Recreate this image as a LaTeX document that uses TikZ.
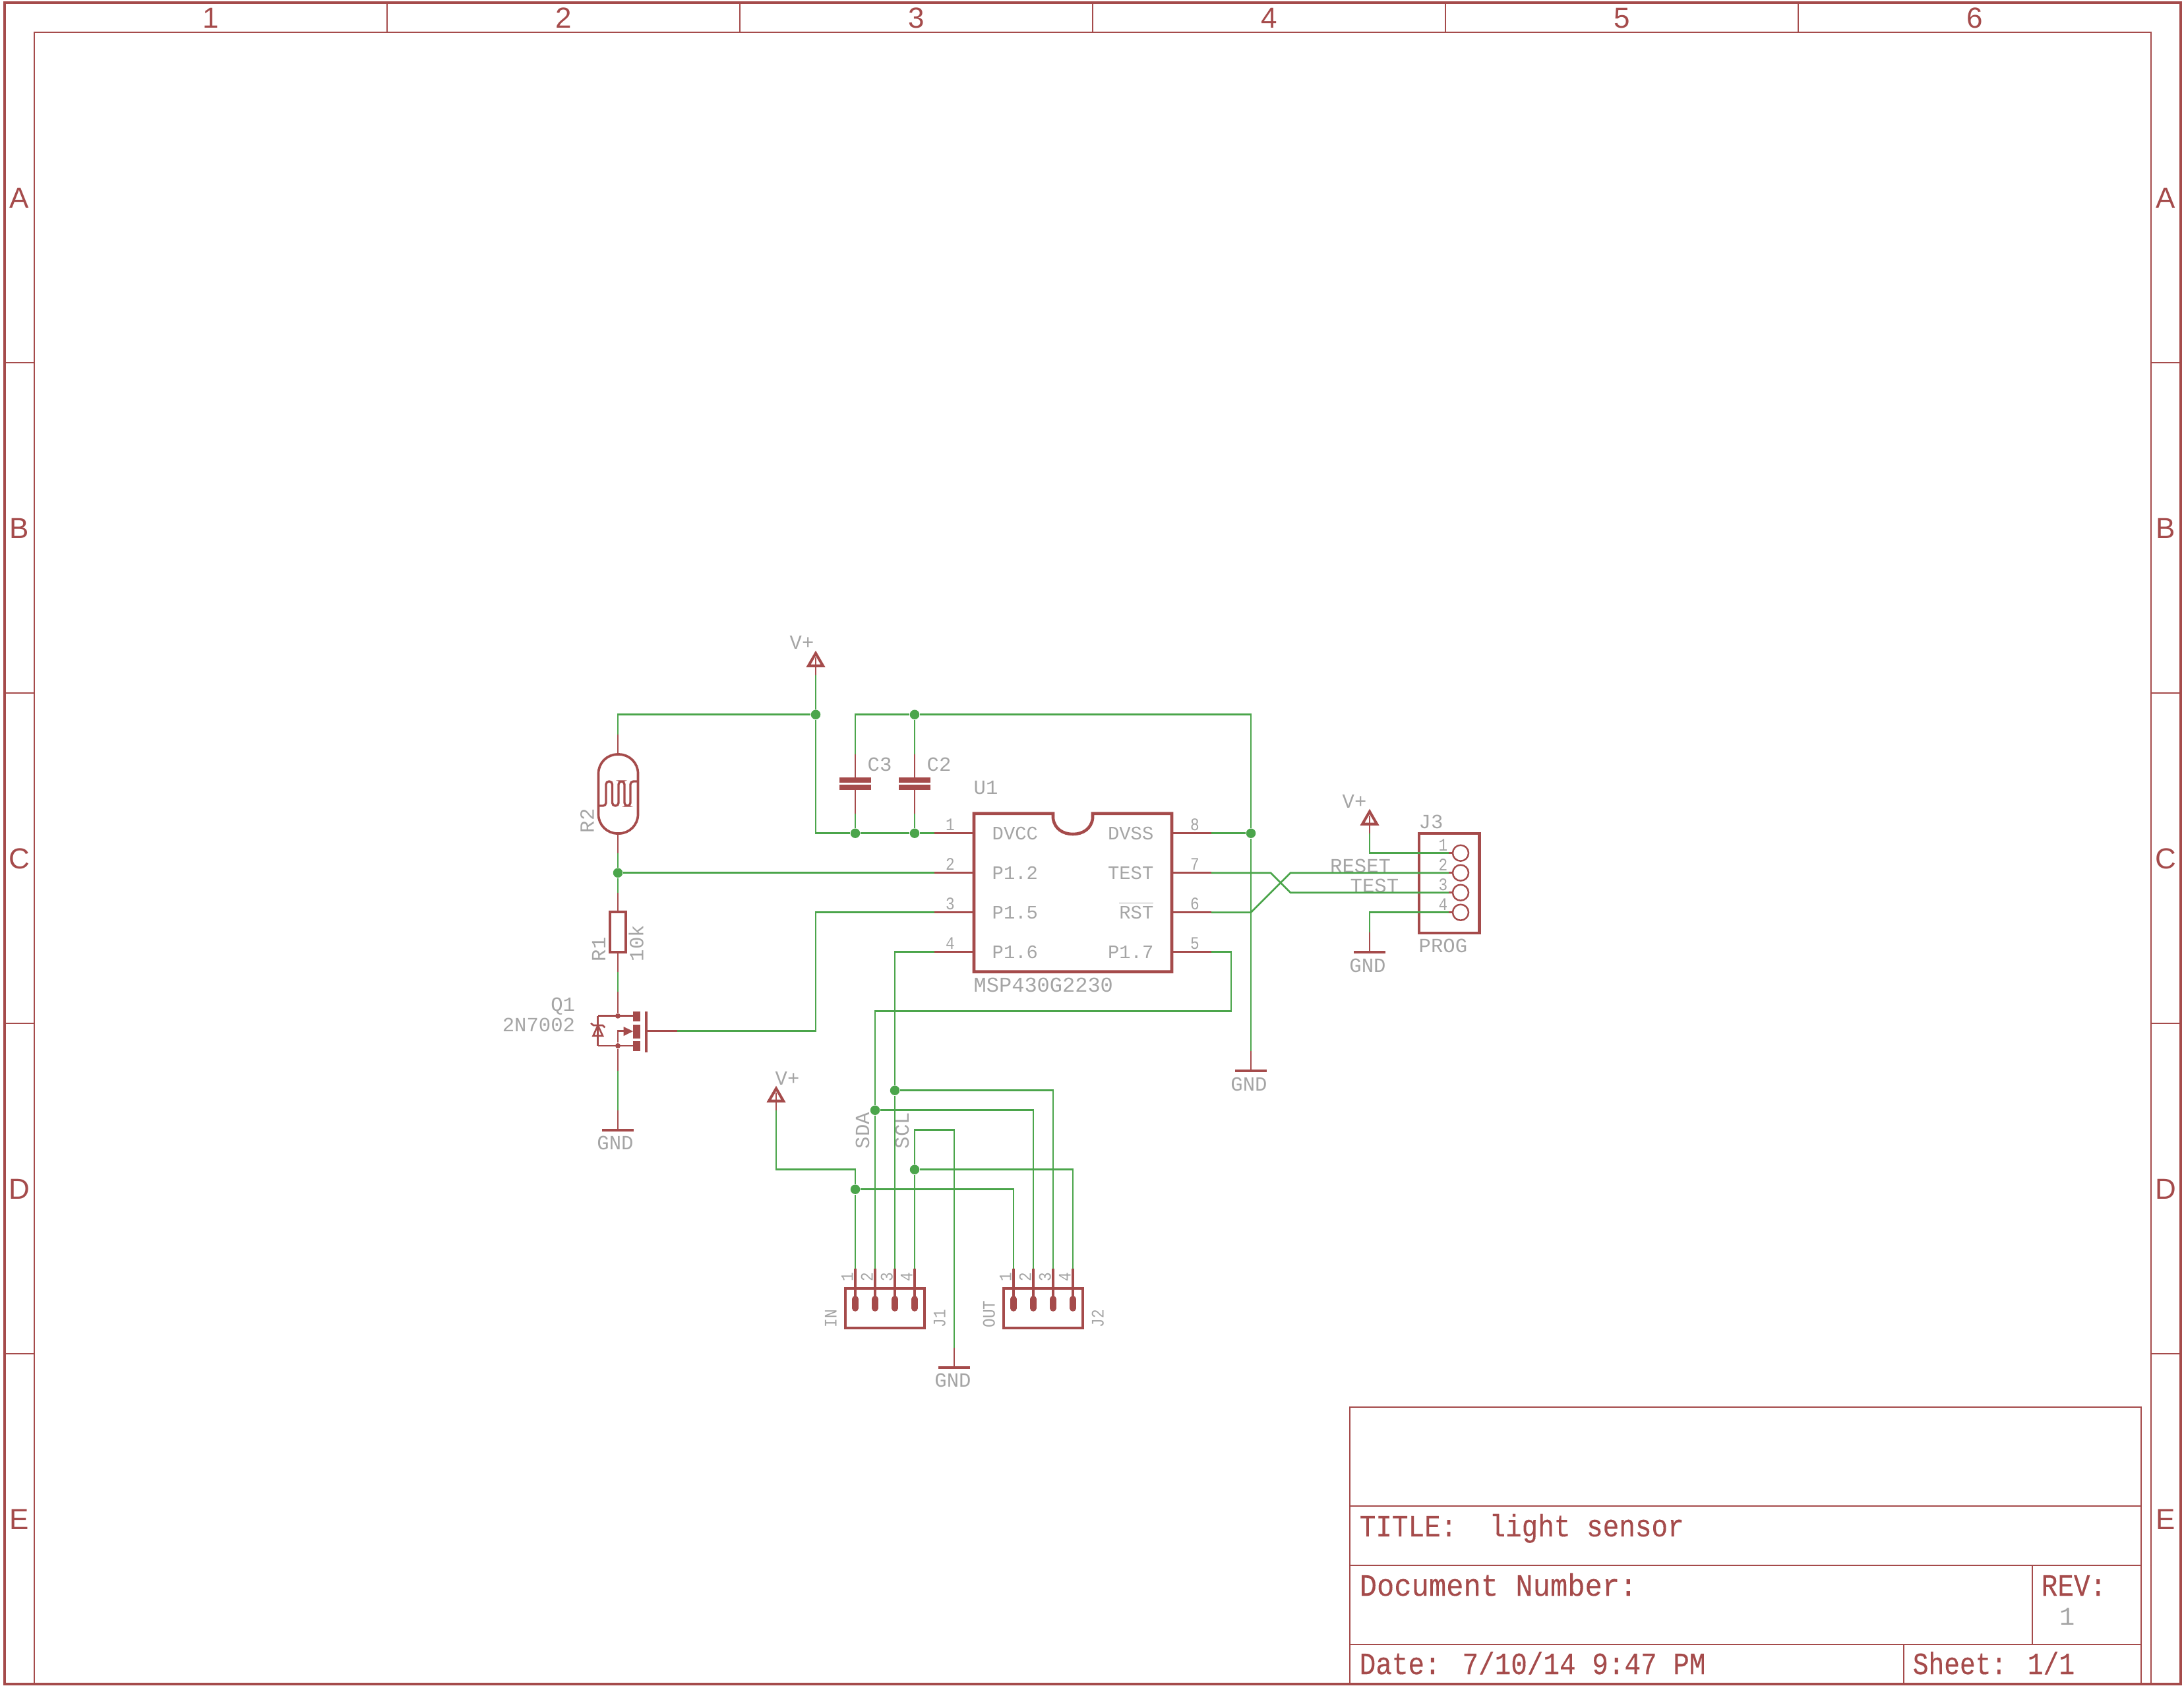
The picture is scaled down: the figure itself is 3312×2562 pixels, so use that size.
\documentclass[tikz,border=0pt]{standalone}
\usepackage{fontspec}
\usepackage{xcolor}
\newfontfamily\vecfont{Liberation Mono}
\newfontfamily\vecsmall[FakeStretch=0.85]{Liberation Mono}
\newfontfamily\vectitle[FakeStretch=0.87,FakeBold=0.25]{Liberation Mono}
\newfontfamily\vecdoc[FakeStretch=0.93,FakeBold=0.25]{Liberation Mono}
\newfontfamily\vecsheet[FakeStretch=0.84,FakeBold=0.25]{Liberation Mono}
\newfontfamily\framefont{Liberation Sans}
\definecolor{symred}{RGB}{165,75,75}
\definecolor{netgreen}{RGB}{75,165,75}
\definecolor{lblgray}{RGB}{165,165,165}
\tikzset{
  wire/.style={color=netgreen,line width=0.75pt},
  pinline/.style={color=symred,line width=0.75pt},
  symline/.style={color=symred,line width=1.15pt},
  framethin/.style={color=symred,line width=0.7pt},
  junc/.style={circle,fill=netgreen,inner sep=0pt,minimum size=0.145cm},
  dotred/.style={circle,fill=symred,inner sep=0pt,minimum size=0.08cm},
  lbl/.style={inner sep=0pt,text=lblgray,font=\vecfont\fontsize{8.7pt}{10pt}\selectfont,text height=5.7pt,text depth=0pt},
  pinlbl/.style={lbl,font=\vecfont\fontsize{8.2pt}{10pt}\selectfont},
  pinno/.style={inner sep=0pt,text=lblgray,font=\vecsmall\fontsize{7.6pt}{8pt}\selectfont,text height=4.9pt,text depth=0pt},
  framelbl/.style={inner sep=0pt,text=symred,font=\framefont\fontsize{12.5pt}{14pt}\selectfont,text height=8.9pt,text depth=0pt},
  titlelbl/.style={inner sep=0pt,anchor=base west,text=symred,font=\vectitle\fontsize{13.4pt}{15pt}\selectfont},
  boxsym/.style={draw=symred,line width=1.1pt,inner sep=0pt}
}

\begin{document}
\begin{tikzpicture}[x=0.01cm,y=-0.01cm]
\useasboundingbox (0,0) rectangle (3312,2562);

% frame
\draw[color=symred,line width=1.1pt] (7,4) rectangle (3307,2554);
\draw[framethin] (52,2554) -- (52,49) -- (3262,49) -- (3262,2554);
\draw[framethin] (587,4) -- (587,49);
\draw[framethin] (1122,4) -- (1122,49);
\draw[framethin] (1657,4) -- (1657,49);
\draw[framethin] (2192,4) -- (2192,49);
\draw[framethin] (2727,4) -- (2727,49);
\draw[framethin] (7,550) -- (52,550);
\draw[framethin] (7,1051) -- (52,1051);
\draw[framethin] (7,1552) -- (52,1552);
\draw[framethin] (7,2053) -- (52,2053);
\draw[framethin] (3262,550) -- (3307,550);
\draw[framethin] (3262,1051) -- (3307,1051);
\draw[framethin] (3262,1552) -- (3307,1552);
\draw[framethin] (3262,2053) -- (3307,2053);
\node[framelbl] (col1) at (319.5,26.5) {1};
\node[framelbl] (col2) at (854.5,26.5) {2};
\node[framelbl] (col3) at (1389.5,26.5) {3};
\node[framelbl] (col4) at (1924.5,26.5) {4};
\node[framelbl] (col5) at (2459.5,26.5) {5};
\node[framelbl] (col6) at (2994.5,26.5) {6};
\node[framelbl] (rowAl) at (29.5,299.5) {A};
\node[framelbl] (rowBl) at (29.5,800.5) {B};
\node[framelbl] (rowCl) at (29.5,1301.5) {C};
\node[framelbl] (rowDl) at (29.5,1802.5) {D};
\node[framelbl] (rowEl) at (29.5,2303.5) {E};
\node[framelbl] (rowAr) at (3284.5,299.5) {A};
\node[framelbl] (rowBr) at (3284.5,800.5) {B};
\node[framelbl] (rowCr) at (3284.5,1301.5) {C};
\node[framelbl] (rowDr) at (3284.5,1802.5) {D};
\node[framelbl] (rowEr) at (3284.5,2303.5) {E};

% title block
\draw[framethin] (2047,2554) -- (2047,2134) -- (3247,2134) -- (3247,2554);
\draw[framethin] (2047,2284) -- (3247,2284);
\draw[framethin] (2047,2374) -- (3247,2374);
\draw[framethin] (2047,2494) -- (3247,2494);
\draw[framethin] (3082,2374) -- (3082,2494);
\draw[framethin] (2887,2494) -- (2887,2554);
\node[titlelbl] (title) at (2061,2330) {TITLE:\ \ light sensor};
\node[titlelbl,font=\vecdoc\fontsize{13.4pt}{15pt}\selectfont] (docnum) at (2061,2420) {Document Number:};
\node[titlelbl] (rev) at (3095,2420) {REV:};
\node[lbl,font=\vecfont\fontsize{11pt}{12pt}\selectfont,text height=7.4pt] (revno) at (3135,2451) {1};
\node[titlelbl] (date) at (2061,2539) {Date: 7/10/14 9:47 PM};
\node[titlelbl,font=\vecsheet\fontsize{13.4pt}{15pt}\selectfont] (sheet) at (2900,2539) {Sheet: 1/1};

% U1
\draw[color=symred,line width=1.3pt] (1597,1233.7) -- (1477,1233.7) -- (1477,1473.7) -- (1777,1473.7) -- (1777,1233.7) -- (1657,1233.7) -- (1657,1241) .. controls (1655,1257) and (1642,1265) .. (1627,1265) .. controls (1612,1265) and (1599,1257) .. (1597,1241) -- cycle;
\coordinate (u1p1) at (1417,1263.7);
\coordinate (u1p2) at (1417,1323.7);
\coordinate (u1p3) at (1417,1383.7);
\coordinate (u1p4) at (1417,1443.7);
\coordinate (u1p5) at (1837,1443.7);
\coordinate (u1p6) at (1837,1383.7);
\coordinate (u1p7) at (1837,1323.7);
\coordinate (u1p8) at (1837,1263.7);
\draw[pinline] (u1p1) -- (1477,1263.7);
\draw[pinline] (u1p2) -- (1477,1323.7);
\draw[pinline] (u1p3) -- (1477,1383.7);
\draw[pinline] (u1p4) -- (1477,1443.7);
\draw[pinline] (u1p5) -- (1777,1443.7);
\draw[pinline] (u1p6) -- (1777,1383.7);
\draw[pinline] (u1p7) -- (1777,1323.7);
\draw[pinline] (u1p8) -- (1777,1263.7);
\node[pinno] (u1n1) at (1441,1251) {1};
\node[pinno] (u1n2) at (1441,1311) {2};
\node[pinno] (u1n3) at (1441,1371) {3};
\node[pinno] (u1n4) at (1441,1431) {4};
\node[pinno] (u1n5) at (1812,1431) {5};
\node[pinno] (u1n6) at (1812,1371) {6};
\node[pinno] (u1n7) at (1812,1311) {7};
\node[pinno] (u1n8) at (1812,1251) {8};
\node[pinlbl,anchor=west] (u1a) at (1504,1263.7) {DVCC};
\node[pinlbl,anchor=west] (u1b) at (1504,1323.7) {P1.2};
\node[pinlbl,anchor=west] (u1c) at (1504,1383.7) {P1.5};
\node[pinlbl,anchor=west] (u1d) at (1504,1443.7) {P1.6};
\node[pinlbl,anchor=east] (u1e) at (1750,1263.7) {DVSS};
\node[pinlbl,anchor=east] (u1f) at (1750,1323.7) {TEST};
\node[pinlbl,anchor=east] (u1g) at (1750,1383.7) {$\overline{\hbox{RST}}$};
\node[pinlbl,anchor=east] (u1h) at (1750,1443.7) {P1.7};
\node[lbl,anchor=west] (u1name) at (1476,1194) {U1};
\node[lbl,anchor=west,font=\vecfont\fontsize{9.1pt}{10pt}\selectfont] (u1val) at (1476,1494) {MSP430G2230};

% R2
\draw[color=symred,line width=1.05pt,rounded corners=0.29cm] (907.5,1144) rectangle (967.5,1264);
\draw[color=symred,line width=0.95pt,rounded corners=0.045cm] (908,1222) -- (919,1222) -- (919,1185) -- (928.5,1185) -- (928.5,1222) -- (938,1222) -- (938,1185) -- (947,1185) -- (947,1222) -- (956,1222) -- (956,1185) -- (967,1185);
\coordinate (r2top) at (937,1113.7);
\coordinate (r2bot) at (937,1293.7);
\draw[pinline] (r2top) -- (937,1144);
\draw[pinline] (r2bot) -- (937,1264);
\node[lbl,rotate=90,anchor=west] (r2name) at (890.5,1264) {R2};

% R1
\node[boxsym,line width=1.2pt,minimum width=0.233cm,minimum height=0.607cm] (r1) at (937,1413.7) {};
\coordinate (r1top) at (937,1353.7);
\coordinate (r1bot) at (937,1473.7);
\draw[pinline] (r1top) -- (r1.north);
\draw[pinline] (r1bot) -- (r1.south);
\node[lbl,rotate=90,anchor=west] (r1name) at (908,1459) {R1};
\node[lbl,rotate=90,anchor=west] (r1val) at (965.7,1459) {10k};

% Q1
\coordinate (q1d) at (937,1503.7);
\coordinate (q1s) at (937,1623.7);
\coordinate (q1g) at (1027,1563.7);
\node[dotred] (q1dd) at (937,1540.7) {};
\node[dotred] (q1ss) at (937,1586) {};
\draw[pinline] (q1d) -- (q1dd);
\draw[pinline] (q1s) -- (q1ss);
\draw[pinline] (906.7,1540.7) -- (960,1540.7);
\draw[pinline] (906.7,1586) -- (960,1586);
\draw[pinline] (906.7,1540.7) -- (906.7,1586);
\draw[pinline] (q1ss) -- (937,1563.7) -- (946,1563.7);
\draw[pinline] (q1g) -- (981,1563.7);
\draw[symline] (980,1534) -- (980,1595.7);
\fill[symred] (960,1534) rectangle (971,1549);
\fill[symred] (960,1554) rectangle (971,1575);
\fill[symred] (960,1579) rectangle (971,1594);
\fill[symred] (945.7,1557) -- (945.7,1571) -- (960,1564) -- cycle;
\draw[pinline] (899.5,1571) -- (914,1571) -- (906.7,1555) -- cycle;
\draw[pinline] (896,1551.7) -- (900,1555) -- (914,1555) -- (917.3,1558.3);
\node[lbl,anchor=east] (q1name) at (872.7,1523) {Q1};
\node[lbl,anchor=east] (q1val) at (872.7,1554) {2N7002};

% C3 and C2
\fill[symred] (1273,1179) rectangle (1321,1187);
\fill[symred] (1273,1190) rectangle (1321,1198);
\fill[symred] (1363,1179) rectangle (1411,1187);
\fill[symred] (1363,1190) rectangle (1411,1198);
\coordinate (c3top) at (1297,1143.7);
\coordinate (c3bot) at (1297,1233.7);
\coordinate (c2top) at (1387,1143.7);
\coordinate (c2bot) at (1387,1233.7);
\draw[pinline] (c3top) -- (1297,1179);
\draw[pinline] (c3bot) -- (1297,1198);
\draw[pinline] (c2top) -- (1387,1179);
\draw[pinline] (c2bot) -- (1387,1198);
\node[lbl,anchor=west] (c3name) at (1315,1159) {C3};
\node[lbl,anchor=west] (c2name) at (1405,1159) {C2};

% V+ symbols
\coordinate (vpa) at (1237,1023.7);
\coordinate (vpb) at (1177,1683.7);
\coordinate (vpc) at (2077,1263.7);
\draw[symline] (1226,1009.7) -- (1237,990.7) -- (1248,1009.7) -- cycle;
\draw[symline] (1166,1669.7) -- (1177,1650.7) -- (1188,1669.7) -- cycle;
\draw[symline] (2066,1249.7) -- (2077,1230.7) -- (2088,1249.7) -- cycle;
\draw[pinline] (vpa) -- (1237,997);
\draw[pinline] (vpb) -- (1177,1657);
\draw[pinline] (vpc) -- (2077,1237);
\node[lbl,anchor=west] (vpatxt) at (1197,974) {V+};
\node[lbl,anchor=west] (vpbtxt) at (1175,1635) {V+};
\node[lbl,anchor=west] (vpctxt) at (2035,1215) {V+};

% GND symbols
\coordinate (gnda) at (937,1683.7);
\coordinate (gndb) at (1897,1593.7);
\coordinate (gndc) at (2077,1413.7);
\coordinate (gndd) at (1447,2043.7);
\draw[pinline] (gnda) -- (937,1713.7);
\draw[pinline] (gndb) -- (1897,1623.7);
\draw[pinline] (gndc) -- (2077,1443.7);
\draw[pinline] (gndd) -- (1447,2073.7);
\draw[symline] (913,1713.7) -- (961,1713.7);
\draw[symline] (1873,1623.7) -- (1921,1623.7);
\draw[symline] (2053,1443.7) -- (2101,1443.7);
\draw[symline] (1423,2073.7) -- (1471,2073.7);
\node[lbl] (gndatxt) at (933,1733) {GND};
\node[lbl] (gndbtxt) at (1894,1644) {GND};
\node[lbl] (gndctxt) at (2074,1464) {GND};
\node[lbl] (gnddtxt) at (1445,2093) {GND};

% J3
\node[draw=symred,line width=1.3pt,inner sep=0pt,minimum width=0.912cm,minimum height=1.51cm] (j3box) at (2197.7,1339.5) {};
\node[draw=symred,line width=0.7pt,circle,inner sep=0pt,minimum size=0.24cm] (j3a) at (2215,1293.7) {};
\node[draw=symred,line width=0.7pt,circle,inner sep=0pt,minimum size=0.24cm] (j3b) at (2215,1323.7) {};
\node[draw=symred,line width=0.7pt,circle,inner sep=0pt,minimum size=0.24cm] (j3c) at (2215,1353.7) {};
\node[draw=symred,line width=0.7pt,circle,inner sep=0pt,minimum size=0.24cm] (j3d) at (2215,1383.7) {};
\coordinate (j3p1) at (2197,1293.7);
\coordinate (j3p2) at (2197,1323.7);
\coordinate (j3p3) at (2197,1353.7);
\coordinate (j3p4) at (2197,1383.7);
\draw[pinline] (j3p1) -- (j3a);
\draw[pinline] (j3p2) -- (j3b);
\draw[pinline] (j3p3) -- (j3c);
\draw[pinline] (j3p4) -- (j3d);
\node[pinno,anchor=east] (j3n1) at (2196,1281.7) {1};
\node[pinno,anchor=east] (j3n2) at (2196,1311.7) {2};
\node[pinno,anchor=east] (j3n3) at (2196,1341.7) {3};
\node[pinno,anchor=east] (j3n4) at (2196,1371.7) {4};
\node[lbl,anchor=west] (j3name) at (2151,1246) {J3};
\node[lbl,anchor=west] (j3val) at (2151,1434) {PROG};
\node[lbl,anchor=west] (resettxt) at (2016.5,1313) {RESET};
\node[lbl,anchor=west] (testtxt) at (2047,1343) {TEST};

% J1
\node[boxsym,minimum width=1.2cm,minimum height=0.6cm] (j1box) at (1342,1983.7) {};
\coordinate (j1p1) at (1297,1923.7);
\coordinate (j1p2) at (1327,1923.7);
\coordinate (j1p3) at (1357,1923.7);
\coordinate (j1p4) at (1387,1923.7);
\draw[symline] (j1p1) -- (1297,1970);
\draw[symline] (j1p2) -- (1327,1970);
\draw[symline] (j1p3) -- (1357,1970);
\draw[symline] (j1p4) -- (1387,1970);
\draw[color=symred,line width=2.75pt,line cap=round] (1297,1970) -- (1297,1984);
\draw[color=symred,line width=2.75pt,line cap=round] (1327,1970) -- (1327,1984);
\draw[color=symred,line width=2.75pt,line cap=round] (1357,1970) -- (1357,1984);
\draw[color=symred,line width=2.75pt,line cap=round] (1387,1970) -- (1387,1984);
\node[pinno,rotate=90] (j1n1) at (1285,1937) {1};
\node[pinno,rotate=90] (j1n2) at (1315,1937) {2};
\node[pinno,rotate=90] (j1n3) at (1345,1937) {3};
\node[pinno,rotate=90] (j1n4) at (1375,1937) {4};
\node[pinno,rotate=90,anchor=west] (j1val) at (1260,2014) {IN};
\node[pinno,rotate=90,anchor=west] (j1name) at (1425,2014) {J1};

% J2
\node[boxsym,minimum width=1.2cm,minimum height=0.6cm] (j2box) at (1582,1983.7) {};
\coordinate (j2p1) at (1537,1923.7);
\coordinate (j2p2) at (1567,1923.7);
\coordinate (j2p3) at (1597,1923.7);
\coordinate (j2p4) at (1627,1923.7);
\draw[symline] (j2p1) -- (1537,1970);
\draw[symline] (j2p2) -- (1567,1970);
\draw[symline] (j2p3) -- (1597,1970);
\draw[symline] (j2p4) -- (1627,1970);
\draw[color=symred,line width=2.75pt,line cap=round] (1537,1970) -- (1537,1984);
\draw[color=symred,line width=2.75pt,line cap=round] (1567,1970) -- (1567,1984);
\draw[color=symred,line width=2.75pt,line cap=round] (1597,1970) -- (1597,1984);
\draw[color=symred,line width=2.75pt,line cap=round] (1627,1970) -- (1627,1984);
\node[pinno,rotate=90] (j2n1) at (1525,1937) {1};
\node[pinno,rotate=90] (j2n2) at (1555,1937) {2};
\node[pinno,rotate=90] (j2n3) at (1585,1937) {3};
\node[pinno,rotate=90] (j2n4) at (1615,1937) {4};
\node[pinno,rotate=90,anchor=west] (j2val) at (1500,2014) {OUT};
\node[pinno,rotate=90,anchor=west] (j2name) at (1665,2014) {J2};

\node[lbl,rotate=90,anchor=west] (sdatxt) at (1308,1743) {SDA};
\node[lbl,rotate=90,anchor=west] (scltxt) at (1368,1743) {SCL};

% junctions
\node[junc] (jtop) at (1237,1083.7) {};
\node[junc] (jcap) at (1387,1083.7) {};
\node[junc] (jc3) at (1297,1263.7) {};
\node[junc] (jc2) at (1387,1263.7) {};
\node[junc] (jvss) at (1897,1263.7) {};
\node[junc] (jldr) at (937,1323.7) {};
\node[junc] (jscl) at (1357,1653.7) {};
\node[junc] (jsda) at (1327,1683.7) {};
\node[junc] (jgnd) at (1387,1773.7) {};
\node[junc] (jvcc) at (1297,1803.7) {};
\coordinate (bendq) at (1237,1383.7);
\coordinate (bendsda) at (1327,1533.7);
\coordinate (bendp5) at (1867,1443.7);
\coordinate (bendvcc) at (1297,1773.7);
\coordinate (bendgnd) at (1387,1713.7);
\coordinate (bendcap) at (1297,1083.7);
\coordinate (bendscl) at (1357,1443.7);
\coordinate (xa) at (1897,1383.7);
\coordinate (xb) at (1957,1323.7);
\coordinate (xc) at (1927,1323.7);
\coordinate (xd) at (1957,1353.7);

% nets
\draw[wire] (r2top) |- (jtop);
\draw[wire] (vpa) -- (jtop);
\draw[wire] (jtop) |- (jc3);
\draw[wire] (jc3) -- (jc2);
\draw[wire] (jc2) -- (u1p1);
\draw[wire] (c3top) -- (bendcap) -- (jcap);
\draw[wire] (c2top) -- (jcap);
\draw[wire] (c3bot) -- (jc3);
\draw[wire] (c2bot) -- (jc2);
\draw[wire] (jcap) -| (jvss);
\draw[wire] (jvss) -- (gndb);
\draw[wire] (u1p8) -- (jvss);
\draw[wire] (r2bot) -- (jldr);
\draw[wire] (jldr) -- (r1top);
\draw[wire] (jldr) -- (u1p2);
\draw[wire] (r1bot) -- (q1d);
\draw[wire] (q1s) -- (gnda);
\draw[wire] (q1g) -| (bendq) -- (u1p3);
\draw[wire] (u1p4) -- (bendscl) -- (jscl);
\draw[wire] (jscl) -- (j1p3);
\draw[wire] (jscl) -| (j2p3);
\draw[wire] (u1p5) -- (bendp5) |- (bendsda) -- (jsda);
\draw[wire] (jsda) -- (j1p2);
\draw[wire] (jsda) -| (j2p2);
\draw[wire] (u1p6) -- (xa) -- (xb) -- (j3p2);
\draw[wire] (u1p7) -- (xc) -- (xd) -- (j3p3);
\draw[wire] (vpc) |- (j3p1);
\draw[wire] (j3p4) -| (gndc);
\draw[wire] (vpb) |- (bendvcc) -- (jvcc);
\draw[wire] (jvcc) -- (j1p1);
\draw[wire] (jvcc) -| (j2p1);
\draw[wire] (gndd) |- (bendgnd) -- (jgnd);
\draw[wire] (jgnd) -- (j1p4);
\draw[wire] (jgnd) -| (j2p4);
\end{tikzpicture}
\end{document}
